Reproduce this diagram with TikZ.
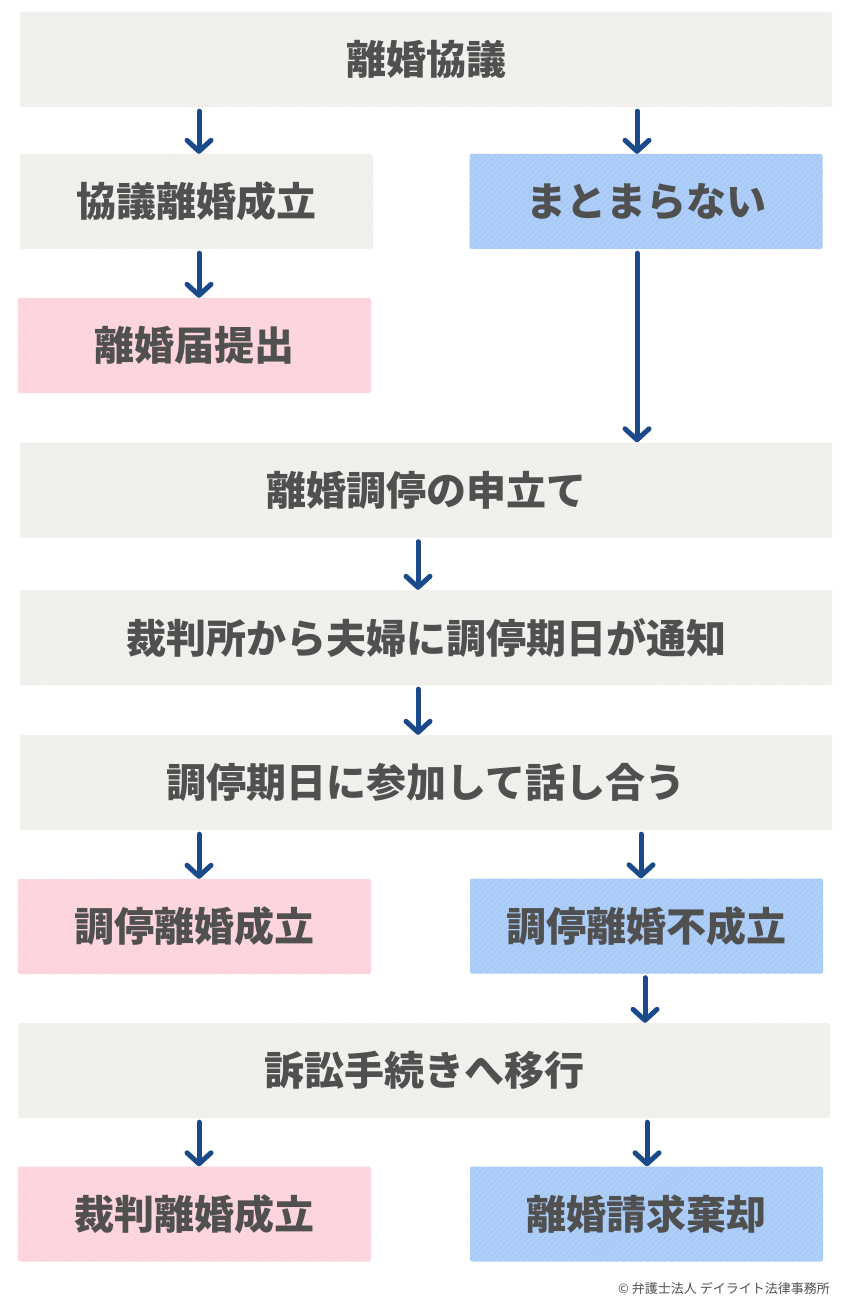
\documentclass[tikz,border=0pt]{standalone}
\usepackage{fontspec}
\newfontfamily\jp{Noto Sans CJK JP}
\usepackage{tikz}
\usetikzlibrary{arrows.meta}
\usetikzlibrary{patterns.meta}
\definecolor{boxgray}{HTML}{F0EFEB}
\definecolor{boxpink}{HTML}{FDD3DC}
\definecolor{boxblue}{HTML}{A8CAF7}
\definecolor{arrowblue}{HTML}{1B4A8A}
\definecolor{textgray}{HTML}{505050}
\tikzset{box/.style={rectangle,rounded corners=2pt,minimum height=95pt,inner sep=0pt,text=textgray,font=\jp\bfseries\fontsize{40}{40}\selectfont,
  postaction={pattern={Lines[angle=45,distance=4pt,line width=1.2pt]},pattern color=white,fill opacity=0.2}},
  wide/.style={box,minimum width=812pt,fill=boxgray},
  narrow/.style={box,minimum width=353pt},
  pink/.style={narrow,fill=boxpink},
  blue/.style={narrow,fill=boxblue},
  plain/.style={narrow,fill=boxgray},
  arr/.style={draw=arrowblue,line width=5pt,line cap=round,shorten <=4pt,-{Straight Barb[length=11pt,width=24pt,line cap=round,round]}}}

\begin{document}
\begin{tikzpicture}[x=1pt,y=-1pt]
\useasboundingbox (0,0) rectangle (850,1305);
\fill [white] (0,0) rectangle (850,1305);

\node (b1) at (426,59.5) [wide] {離婚協議};
\node (b2) at (196.5,201.5) [plain] {協議離婚成立};
\node (b3) at (646,201.5) [blue] {まとまらない};
\node (b4) at (194.5,345.5) [pink] {離婚届提出};
\node (b5) at (426,490) [wide] {離婚調停の申立て};
\node (b6) at (426,637.5) [wide] {裁判所から夫婦に調停期日が通知};
\node (b7) at (426,782.5) [wide] {調停期日に参加して話し合う};
\node (b8) at (194.5,926.5) [pink] {調停離婚成立};
\node (b9) at (646.5,926) [blue] {調停離婚不成立};
\node (b10) at (424,1070.5) [wide] {訴訟手続きへ移行};
\node (b11) at (194.5,1214) [pink] {裁判離婚成立};
\node (b12) at (646.5,1214) [blue] {離婚請求棄却};

\foreach \a / \b / \x in {b1/b2/199, b1/b3/637, b2/b4/199, b3/b5/637, b5/b6/418, b6/b7/418,
  b7/b8/199, b7/b9/641, b9/b10/645, b10/b11/199, b10/b12/647} {
\draw [arr] (\a.south -| \x,0) -- (\b.north -| \x,0);
}

\node (copy) at (830,1288) [anchor=east,inner sep=0pt,text=textgray,font=\jp\fontsize{13}{13}\selectfont] {© 弁護士法人 デイライト法律事務所};
\end{tikzpicture}
\end{document}
